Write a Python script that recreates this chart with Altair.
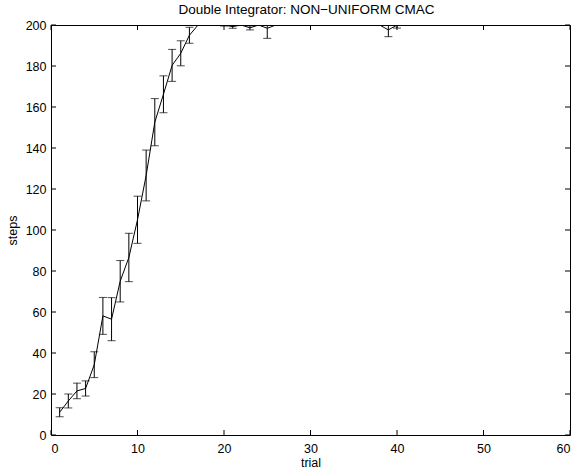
import altair as alt
import pandas as pd

# ---- data ----
trials = list(range(1, 51))
means = [11.1, 16.6, 21.5, 22.7, 34.3, 58.1, 56.5, 75.0, 86.6, 105.0,
         126.6, 152.6, 166.2, 180.3, 186.2, 195.0, 200, 200, 200, 200,
         199.2, 200, 198.6, 200, 198.4, 200, 200, 200, 200, 200,
         200, 200, 200, 200, 200, 200, 200, 200, 197.6, 200,
         200, 200, 200, 200, 200, 200, 200, 200, 200, 200]
errs = [2.2, 3.4, 3.8, 3.7, 6.3, 9.0, 10.5, 10.1, 11.8, 11.5,
        12.4, 11.5, 9.0, 7.8, 6.1, 3.9, 0, 0, 0, 0.5,
        0.8, 0, 1.0, 0, 4.9, 0, 0, 0, 0, 0,
        0, 0, 0, 0, 0, 0, 0, 0, 3.3, 1.5,
        0, 0, 0, 0, 0, 0, 0, 0, 0, 0]
x_ticks = [0, 10, 20, 30, 40, 50, 60]
y_ticks = [0, 20, 40, 60, 80, 100, 120, 140, 160, 180, 200]

W, H = 519, 410
FONT = "Liberation Sans"

df = pd.DataFrame({"trial": trials, "mean": means, "err": errs})
df["lo"] = df["mean"] - df["err"]
df["hi"] = df["mean"] + df["err"]
bars = df[df["err"] > 0]

xs = alt.Scale(domain=[0, 60], nice=False, zero=False)
ys = alt.Scale(domain=[0, 200], nice=False)
xax = alt.Axis(values=x_ticks, title="trial", labelPadding=7, titlePadding=2, format="d")
yax = alt.Axis(values=y_ticks, title="steps", labelPadding=5, titlePadding=6, format="d")

X = alt.X("trial:Q", scale=xs, axis=xax)
Y = alt.Y("mean:Q", scale=ys, axis=yax)

line = alt.Chart(df).mark_line(color="black", strokeWidth=1, clip=True).encode(x=X, y=Y)

rules = alt.Chart(bars).mark_rule(color="black", strokeWidth=1, clip=True).encode(
    x=X, y=alt.Y("lo:Q", scale=ys, axis=yax), y2="hi:Q")
cap_lo = alt.Chart(bars).mark_tick(color="black", orient="horizontal", size=8,
                                   thickness=1, clip=True).encode(
    x=X, y=alt.Y("lo:Q", scale=ys, axis=yax))
cap_hi = alt.Chart(bars).mark_tick(color="black", orient="horizontal", size=8,
                                   thickness=1, clip=True).encode(
    x=X, y=alt.Y("hi:Q", scale=ys, axis=yax))

xt = pd.DataFrame({"trial": x_ticks})
yt = pd.DataFrame({"mean": y_ticks})
TL = 5
xt_bot = alt.Chart(xt).mark_rule(color="black", strokeWidth=1).encode(
    x=X, y=alt.value(H), y2=alt.value(H - TL))
xt_top = alt.Chart(xt).mark_rule(color="black", strokeWidth=1).encode(
    x=X, y=alt.value(0), y2=alt.value(TL))
yt_left = alt.Chart(yt).mark_rule(color="black", strokeWidth=1).encode(
    y=Y, x=alt.value(0), x2=alt.value(TL))
yt_right = alt.Chart(yt).mark_rule(color="black", strokeWidth=1).encode(
    y=Y, x=alt.value(W), x2=alt.value(W - TL))

chart = alt.layer(line, rules, cap_lo, cap_hi, xt_bot, xt_top, yt_left, yt_right).properties(
    width=W, height=H,
    title=alt.TitleParams("Double Integrator: NON\u2212UNIFORM CMAC", font=FONT,
                          fontSize=13.5, fontWeight="normal", color="black",
                          offset=3, dx=-4),
    autosize=alt.AutoSizeParams(type="none"),
    padding={"left": 51, "top": 25, "right": 6, "bottom": 36},
    background="white",
).configure_view(
    stroke="black", strokeWidth=1
).configure_axis(
    domain=False, grid=False, tickSize=0,
    labelFont=FONT, labelFontSize=12.5, labelColor="black",
    titleFont=FONT, titleFontSize=12.5, titleFontWeight="normal", titleColor="black",
)

chart.save("out.html", embed_options={"renderer": "svg", "actions": False})
